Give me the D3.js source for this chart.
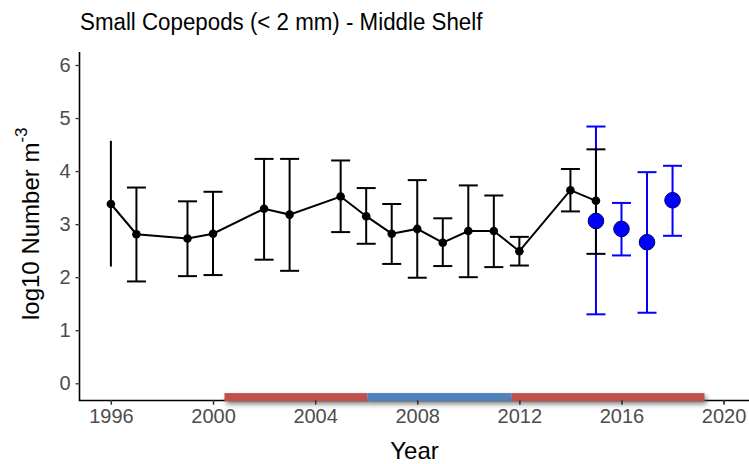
<!DOCTYPE html>
<html>
<head>
<meta charset="utf-8">
<script src="https://cdn.jsdelivr.net/npm/d3@7"></script>
<style>
  html, body { margin: 0; padding: 0; background: #fff; }
  svg { display: block; font-family: "Liberation Sans", Arial, sans-serif; }
</style>
</head>
<body>
<svg id="chart" width="749" height="464"></svg>
<script>
// Survey series (black): annual mean with error-bar limits
const surveyYears = [1996, 1997, 1999, 2000, 2002, 2003, 2005, 2006, 2007, 2008, 2009, 2010, 2011, 2012, 2014, 2015];
const surveyMean  = [3.38, 2.81, 2.73, 2.82, 3.29, 3.18, 3.52, 3.15, 2.82, 2.91, 2.65, 2.87, 2.87, 2.49, 3.64, 3.44];
const surveyLow   = [2.20, 1.92, 2.02, 2.04, 2.33, 2.12, 2.85, 2.63, 2.25, 1.99, 2.21, 2.00, 2.19, 2.22, 3.24, 2.44];
const surveyHigh  = [4.57, 3.69, 3.43, 3.61, 4.23, 4.23, 4.20, 3.68, 3.38, 3.83, 3.11, 3.73, 3.54, 2.76, 4.04, 4.41];
const uncappedYears = [1996];

// Recent series (blue)
const recentYears = [2015, 2016, 2017, 2018];
const recentMean  = [3.06, 2.91, 2.66, 3.45];
const recentLow   = [1.30, 2.41, 1.33, 2.78];
const recentHigh  = [4.84, 3.40, 3.98, 4.10];

// Climate periods shown along the bottom
const periodStart = [2000.45, 2006.05, 2011.7];
const periodEnd   = [2006.05, 2011.7, 2019.25];
const periodPhase = ["warm", "cold", "warm"];

// Axis ticks and text
const xTicks = [1996, 2000, 2004, 2008, 2012, 2016, 2020];
const yTicks = [0, 1, 2, 3, 4, 5, 6];
const titleText = "Small Copepods (< 2 mm) - Middle Shelf";
const xTitle = "Year";

const phaseColor = { warm: "#C0504D", cold: "#4F81BD" };

const svg = d3.select("#chart");
const panelLeft = 80, panelRight = 747.6, panelTop = 52, panelBottom = 400;

const x = d3.scaleLinear().domain([1994.79, 2020.94]).range([panelLeft, panelRight]);
const y = d3.scaleLinear().domain([-0.315, 6.245]).range([panelBottom, panelTop]);

const defs = svg.append("defs");
const shadow = defs.append("filter").attr("id", "barShadow")
  .attr("filterUnits", "userSpaceOnUse")
  .attr("x", 150).attr("y", 370).attr("width", 600).attr("height", 60);
shadow.append("feDropShadow").attr("dx", 2).attr("dy", 3)
  .attr("stdDeviation", 2.4).attr("flood-color", "#555").attr("flood-opacity", 0.75);

// Title
svg.append("text").attr("transform", "translate(80,30) scale(0.95,1)")
  .attr("font-size", 23.5).attr("fill", "#000").text(titleText);

// Axes
const xAxis = svg.append("g").attr("transform", `translate(0,${panelBottom})`)
  .call(d3.axisBottom(x).tickValues(xTicks).tickFormat(d3.format("d")).tickSize(4.5).tickPadding(4));
xAxis.select(".domain").attr("d", `M${panelLeft},0.5H749`).attr("stroke", "#000").attr("stroke-width", 1.6);
xAxis.selectAll(".tick line").attr("stroke", "#333").attr("stroke-width", 1.3);
xAxis.selectAll(".tick text").attr("font-size", 20).attr("fill", "#4D4D4D")
  .attr("font-family", "Liberation Sans, Arial, sans-serif");

const yAxis = svg.append("g").attr("transform", `translate(${panelLeft},0)`)
  .call(d3.axisLeft(y).tickValues(yTicks).tickFormat(d3.format("d")).tickSize(4.5).tickPadding(5));
yAxis.select(".domain").attr("d", `M-0.5,${panelTop}V${panelBottom + 1.3}`).attr("stroke", "#000").attr("stroke-width", 1.6);
yAxis.selectAll(".tick line").attr("stroke", "#333").attr("stroke-width", 1.3);
yAxis.selectAll(".tick text").attr("font-size", 20).attr("fill", "#4D4D4D")
  .attr("font-family", "Liberation Sans, Arial, sans-serif");

// Axis titles
svg.append("text").attr("x", (panelLeft + 749) / 2).attr("y", 459)
  .attr("text-anchor", "middle").attr("font-size", 24).attr("fill", "#000").text(xTitle);

const yt = svg.append("text").attr("transform", "translate(38.5,320) rotate(-90)")
  .attr("font-size", 24).attr("fill", "#000");
yt.append("tspan").text("log10 Number m");
yt.append("tspan").attr("font-size", 17).attr("dy", -12).text("-3");

// Period bars along the bottom
const periods = periodStart.map((s, i) => ({ s, e: periodEnd[i], phase: periodPhase[i] }));
const barMid = y(-0.26), barH = 8;
svg.append("g").attr("filter", "url(#barShadow)")
  .selectAll("rect").data(periods).join("rect")
  .attr("x", d => x(d.s)).attr("width", d => x(d.e) - x(d.s))
  .attr("y", barMid - barH / 2).attr("height", barH)
  .attr("fill", d => phaseColor[d.phase]);

// Redraw x tick marks above the bars
svg.append("g").attr("transform", `translate(0,${panelBottom})`)
  .call(d3.axisBottom(x).tickValues(xTicks).tickFormat("").tickSize(4.5))
  .call(g => g.select(".domain").remove())
  .selectAll(".tick line").attr("stroke", "#333").attr("stroke-width", 1.3);

const capHalf = 9.5;
function drawErrorBars(g, years, lo, hi, color, uncapped) {
  const rows = years.map((yr, i) => ({ yr, lo: lo[i], hi: hi[i] }));
  const grp = g.append("g").attr("stroke", color).attr("stroke-width", 2).attr("fill", "none");
  grp.selectAll("line.v").data(rows).join("line").attr("class", "v")
    .attr("x1", d => x(d.yr)).attr("x2", d => x(d.yr))
    .attr("y1", d => y(d.lo)).attr("y2", d => y(d.hi));
  const capped = rows.filter(d => !uncapped.includes(d.yr));
  grp.selectAll("line.t").data(capped).join("line").attr("class", "t")
    .attr("x1", d => x(d.yr) - capHalf).attr("x2", d => x(d.yr) + capHalf)
    .attr("y1", d => y(d.hi)).attr("y2", d => y(d.hi));
  grp.selectAll("line.b").data(capped).join("line").attr("class", "b")
    .attr("x1", d => x(d.yr) - capHalf).attr("x2", d => x(d.yr) + capHalf)
    .attr("y1", d => y(d.lo)).attr("y2", d => y(d.lo));
}

const plot = svg.append("g");

// Blue series error bars
drawErrorBars(plot, recentYears, recentLow, recentHigh, "#0000FF", []);

// Black series: line, error bars, points
const surveyRows = surveyYears.map((yr, i) => ({ yr, v: surveyMean[i] }));
plot.append("path").datum(surveyRows)
  .attr("fill", "none").attr("stroke", "#000").attr("stroke-width", 2)
  .attr("d", d3.line().x(d => x(d.yr)).y(d => y(d.v)));
drawErrorBars(plot, surveyYears, surveyLow, surveyHigh, "#000", uncappedYears);
plot.append("g").selectAll("circle").data(surveyRows).join("circle")
  .attr("cx", d => x(d.yr)).attr("cy", d => y(d.v)).attr("r", 4.3).attr("fill", "#000");

// Blue series points
const recentRows = recentYears.map((yr, i) => ({ yr, v: recentMean[i] }));
plot.append("g").selectAll("circle").data(recentRows).join("circle")
  .attr("cx", d => x(d.yr)).attr("cy", d => y(d.v)).attr("r", 7.8)
  .attr("fill", "#0000FF").attr("stroke", "#00006A").attr("stroke-width", 1);
</script>
</body>
</html>
